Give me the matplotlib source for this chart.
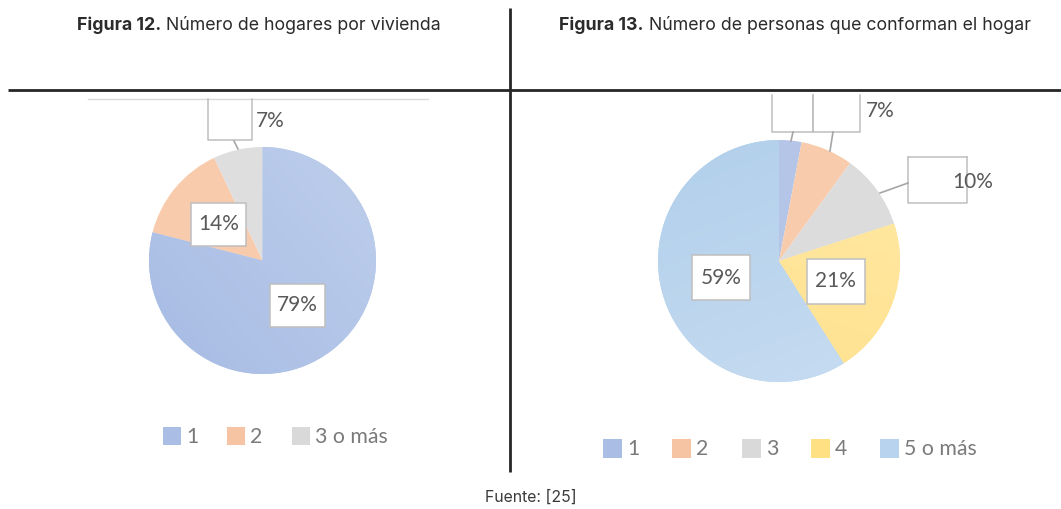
import matplotlib
matplotlib.use("Agg")
import matplotlib.pyplot as plt
from matplotlib.patches import Rectangle
from matplotlib.colors import LinearSegmentedColormap
import numpy as np

W, H = 1061, 509

# ---------------- data ----------------
left_title_bold = "Figura 12."
left_title_rest = " Número de hogares por vivienda"
right_title_bold = "Figura 13."
right_title_rest = " Número de personas que conforman el hogar"
footer = "Fuente: [25]"

left_categories = ["1", "2", "3 o más"]
left_values = [79, 14, 7]
left_colors = ["#b4c6e9", "#f8cbad", "#dedede"]

right_categories = ["1", "2", "3", "4", "5 o más"]
right_values = [3, 7, 10, 21, 59]
right_colors = ["#b4c5e8", "#f8cbad", "#dcdcdc", "#ffe699", "#bdd7ee"]

LABEL_FONT = "Lato"
TXT = "#595959"
BOX_EDGE = "#bfbfbf"

fig = plt.figure(figsize=(W / 100, H / 100), dpi=100)


def pie_axes(cx, cy, half=160):
    ax = fig.add_axes([(cx - half) / W, (H - cy - half) / H, 2 * half / W, 2 * half / H])
    return ax, half


def gradient_fill(ax, wedge, c0, c1, direction):
    # gradient image clipped to the wedge
    n = 200
    xs = np.linspace(-1, 1, n)
    X, Y = np.meshgrid(xs, xs)
    t = (X * direction[0] + Y * direction[1])
    t = (t - t.min()) / (t.max() - t.min())
    cmap = LinearSegmentedColormap.from_list("g", [c0, c1])
    lim = ax.get_xlim()
    im = ax.imshow(t, cmap=cmap, extent=[lim[0], lim[1], lim[0], lim[1]],
                   origin="lower", zorder=1, interpolation="bilinear")
    im.set_clip_path(wedge)


def draw_pie(cx, cy, r, values, colors, label_frac, label_sizes, inside_mask, grads):
    ax, half = pie_axes(cx, cy)
    wedges, _ = ax.pie(values, colors=colors, startangle=90, counterclock=False,
                       radius=r, wedgeprops=dict(linewidth=0), frame=False)
    ax.set_xlim(-half, half)
    ax.set_ylim(-half, half)
    ax.set_aspect("equal")
    ax.set_axis_off()
    for i, g in grads.items():
        gradient_fill(ax, wedges[i], g[0], g[1], g[2])
    total = sum(values)
    for i, (w, v) in enumerate(zip(wedges, values)):
        if not inside_mask[i]:
            continue
        mid = np.deg2rad((w.theta1 + w.theta2) / 2)
        lx, ly = label_frac * r * np.cos(mid), label_frac * r * np.sin(mid)
        bw, bh = label_sizes
        ax.add_patch(Rectangle((lx - bw / 2, ly - bh / 2), bw, bh, facecolor="white",
                               edgecolor=BOX_EDGE, linewidth=1.1, zorder=3))
        ax.text(lx, ly, f"{round(100 * v / total)}%", ha="center", va="center",
                fontsize=15, color=TXT, family=LABEL_FONT, zorder=4)
    return ax


# ---------- left pie ----------
draw_pie(262.5, 260.5, 113.5, left_values, left_colors, 0.5, (55, 43),
         [True, True, False],
         {0: ("#a2b7e2", "#c3d3ee", (0.75, 0.65))})

# ---------- right pie ----------
draw_pie(779, 261, 121, right_values, right_colors, 0.5, (58, 45),
         [False, False, False, True, True],
         {4: ("#aecdea", "#cadef2", (0.35, -0.9)),
          3: ("#ffe08a", "#ffeaa8", (0.3, 0.9))})

# ---------- overlay in pixel coordinates ----------
ov = fig.add_axes([0, 0, 1, 1], zorder=5)
ov.set_xlim(0, W)
ov.set_ylim(H, 0)
ov.set_axis_off()
ov.patch.set_alpha(0)

# frame lines
ov.plot([8, W], [90, 90], color="#262626", lw=2.0, solid_capstyle="butt")
ov.plot([510, 510], [8, 472], color="#262626", lw=2.0, solid_capstyle="butt")
# faint chart border top (left chart)
ov.plot([88, 428], [99, 99], color="#dadada", lw=1.0)

# titles (bold part + regular part, centred as a whole)
fig.canvas.draw()
renderer = fig.canvas.get_renderer()


def mixed_title(cx, cy, bold, rest, size=12.75):
    t1 = ov.text(0, cy, bold, fontsize=size, fontweight="bold", family="Inter",
                 color="#2b2b2b", va="center", ha="left")
    t2 = ov.text(0, cy, rest, fontsize=size, family="Inter", color="#2b2b2b",
                 va="center", ha="left")
    w1 = t1.get_window_extent(renderer).width
    w2 = t2.get_window_extent(renderer).width
    x0 = cx - (w1 + w2) / 2
    t1.set_x(x0)
    t2.set_x(x0 + w1)


mixed_title(259, 25, left_title_bold, left_title_rest)
mixed_title(795, 25, right_title_bold, right_title_rest)

ov.text(531, 497, footer, fontsize=11.4, family="Inter", color="#3a3a3a",
        ha="center", va="center")

# ---- outside labels with leader lines ----
def out_box(x0, x1, y0, y1, top=False):
    ov.plot([x0, x0, x1, x1], [y0, y1, y1, y0], color=BOX_EDGE, lw=1.1)
    if top:
        ov.plot([x0, x1], [y0, y0], color=BOX_EDGE, lw=1.1)

# left: 3 o más (7%)
out_box(208, 252, 99, 140)
ov.plot([234, 238], [141, 149], color="#a6a6a6", lw=1.2)
ov.text(256, 121, f"{left_values[2]}%", fontsize=15, family=LABEL_FONT, color=TXT,
        ha="left", va="center")

# right: 1 (box cut off) and 2 (7%)
out_box(772, 813, 95, 132)
out_box(813, 860, 95, 132)
ov.plot([793, 791], [132, 141], color="#a6a6a6", lw=1.2)
ov.plot([833, 830], [132, 151], color="#a6a6a6", lw=1.2)
ov.text(866, 111, f"{right_values[1]}%", fontsize=15, family=LABEL_FONT, color=TXT,
        ha="left", va="center")
# right: 3 (10%)
out_box(908, 967, 157, 203, top=True)
ov.plot([908, 880], [183, 193], color="#a6a6a6", lw=1.2)
ov.text(952, 182, f"{right_values[2]}%", fontsize=15, family=LABEL_FONT, color=TXT,
        ha="left", va="center")

# ---- legends ----
def legend(xs, y, cats, colors, size=18):
    for x, c, col in zip(xs, cats, colors):
        ov.add_patch(Rectangle((x, y - size / 2), size, size, facecolor=col,
                               edgecolor="none"))
        ov.text(x + size + 5, y + 1, c, fontsize=15.3, family=LABEL_FONT, color="#7a7a7a",
                ha="left", va="center")

legend([163, 227, 292], 436, left_categories, ["#a9bde5", "#f6c4a3", "#d9d9d9"])
legend([603, 672, 742, 811, 880], 448, right_categories,
       ["#a9bde5", "#f6c4a3", "#d9d9d9", "#ffe083", "#b7d3ee"], size=19)

fig.savefig("out.png", dpi=100)
